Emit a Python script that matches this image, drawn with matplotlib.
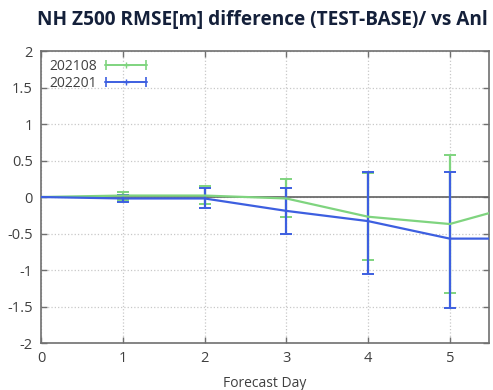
import matplotlib
matplotlib.use("Agg")
import matplotlib.pyplot as plt
from matplotlib.legend_handler import HandlerErrorbar

plt.rcParams["font.family"] = ["Open Sans", "DejaVu Sans"]

# forecast days (day 6 falls just outside the visible range)
days = [0, 1, 2, 3, 4, 5, 6]

# 202108 experiment
mean_202108 = [0.0, 0.02, 0.02, -0.02, -0.27, -0.37, -0.06]
err_lo_202108 = [0.0, 0.06, 0.11, 0.26, 0.59, 0.94, 0.0]
err_hi_202108 = [0.0, 0.05, 0.13, 0.26, 0.60, 0.95, 0.0]

# 202201 experiment
mean_202201 = [0.0, -0.02, -0.02, -0.19, -0.33, -0.57, -0.57]
err_lo_202201 = [0.0, 0.05, 0.13, 0.31, 0.72, 0.95, 0.0]
err_hi_202201 = [0.0, 0.05, 0.15, 0.32, 0.67, 0.91, 0.0]

labels = ["202108", "202201"]
y_ticks = [-2, -1.5, -1, -0.5, 0, 0.5, 1, 1.5, 2]
y_tick_labels = ["-2", "-1.5", "-1", "-0.5", "0", "0.5", "1", "1.5", "2"]
x_ticks = [0, 1, 2, 3, 4, 5]

COLORS = {
    "green": "#7fd47f",
    "blue": "#3d5fe0",
    "frame": "#707070",
    "grid": "#c8c8c8",
    "title": "#14203a",
    "text": "#404040",
}

LEGEND_FS = 10
HANDLE_LEN = 3.0

fig = plt.figure(figsize=(4.93, 3.90), dpi=100)
ax = fig.add_axes([0.0832, 0.1205, 0.9087, 0.7487])

ax.axhline(0, color="#606060", linewidth=1.2, zorder=2)

handles = []
for mean, lo, hi, color, label in [
    (mean_202108, err_lo_202108, err_hi_202108, COLORS["green"], labels[0]),
    (mean_202201, err_lo_202201, err_hi_202201, COLORS["blue"], labels[1]),
]:
    ax.errorbar(
        days, mean, yerr=[lo, hi],
        color=color, linewidth=1.6, elinewidth=1.6,
        capsize=4, capthick=1.4, zorder=3,
    )
    # gnuplot-style key sample: horizontal bar with end caps
    proxy = ax.errorbar(
        [float("nan")], [float("nan")], xerr=[1.0],
        color=color, linewidth=1.2, elinewidth=1.2, marker="+", markersize=4,
        capsize=3.5, capthick=1.2, label=label,
    )
    handles.append(proxy)

ax.set_xlim(0, 5.48)
ax.set_ylim(-2, 2)
ax.set_xticks(x_ticks)
ax.set_yticks(y_ticks)
ax.set_yticklabels(y_tick_labels)
ax.grid(True, color=COLORS["grid"], linestyle=":", linewidth=0.9)
ax.tick_params(direction="in", top=True, right=True, length=4, width=1,
               colors=COLORS["frame"], labelcolor=COLORS["text"], labelsize=10.5, pad=6)
for side in ax.spines.values():
    side.set_color(COLORS["frame"])
    side.set_linewidth(1.2)

ax.set_xlabel("Forecast Day", fontsize=10, color=COLORS["text"], labelpad=7)

fig.text(0.075, 0.948, "NH Z500 RMSE[m] difference (TEST-BASE)/ vs Anl",
         fontsize=13.7, weight="bold", color=COLORS["title"], ha="left", va="center")

leg = ax.legend(handles=handles, loc="upper left", frameon=False, fontsize=LEGEND_FS,
                handlelength=HANDLE_LEN, handletextpad=0.6, borderaxespad=0.2,
                labelspacing=0.1, markerfirst=False, labelcolor=COLORS["text"],
                handler_map={type(handles[0]): HandlerErrorbar(xerr_size=HANDLE_LEN / 2 * 0.95)})

fig.savefig("out.png", dpi=100)
